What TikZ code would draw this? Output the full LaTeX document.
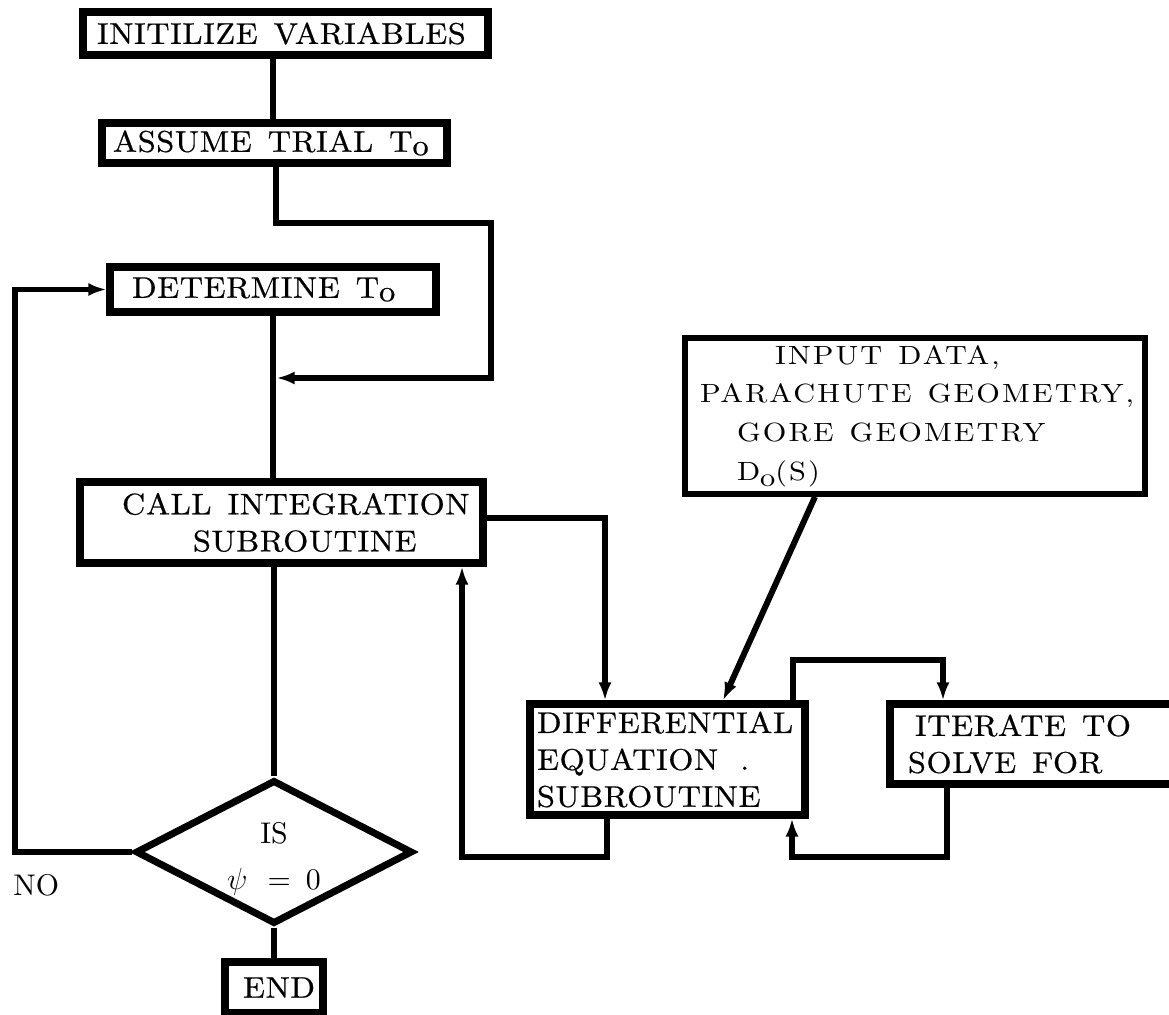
\documentclass[tikz,border=0pt]{standalone}
\usepackage{fontspec}
\setmainfont{lmroman10-regular}[Extension=.otf, BoldFont=lmroman10-bold]
\usetikzlibrary{arrows.meta, shapes.geometric}

% fonts: a widened, slightly heavier serif for the process boxes,
% a widened light serif for the data box
\newfontfamily\boxfamily{lmroman10-regular}[Extension=.otf, FakeStretch=1.08,
  FakeBold=0.6, LetterSpace=2]
\newfontfamily\datafamily{lmroman10-regular}[Extension=.otf, FakeStretch=1.15,
  LetterSpace=8]
\newcommand\chartfont{\boxfamily\fontsize{17}{21}\selectfont}
\newcommand\datafont{\datafamily\fontsize{15}{22}\selectfont}
\newcommand\plainfont{\fontsize{17}{26}\selectfont}
\newcommand\lowo{\raisebox{-0.7mm}{o}}
% word gaps as typed on the chart
\newcommand\gap{\hspace{3.2mm}}
\newcommand\dgap{\hspace{3.2mm}}

\tikzset{
  stepbox/.style={draw, line width=4pt, inner sep=0pt, align=left, font=\chartfont},
  wire/.style={line width=3.4pt},
  flow/.style={line width=3.4pt, -{Latex[length=3.6mm,width=2.6mm]}},
}

\begin{document}
\begin{tikzpicture}[x=0.2mm, y=-0.2mm, line join=miter]
\clip (0,0) rectangle (1169,1015);
\fill[white] (0,0) rectangle (1169,1015);

% main column
\node[stepbox, text width=81mm, minimum height=8.6mm] (init) at (285.5,33.5)
  {\hspace*{2.8mm}\mbox{INITILIZE\gap VARIABLES}};
\node[stepbox, text width=69mm, minimum height=8mm] (assume) at (274.5,143)
  {\hspace*{2.2mm}\mbox{ASSUME\gap TRIAL\gap T\lowo}};
\node[stepbox, text width=65.2mm, minimum height=9mm] (det) at (273,289.5)
  {\hspace*{4.4mm}\mbox{DETERMINE\gap T\lowo}};
\node[stepbox, text width=80.6mm, minimum height=16.2mm] (call) at (281.5,522.5)
  {\hspace*{8.4mm}\mbox{CALL\gap INTEGRATION}\\\hspace*{22.6mm}\mbox{SUBROUTINE}};
\node[diamond, draw, line width=4pt, inner sep=0pt, minimum width=55.4mm,
  minimum height=28.8mm] (dia) at (274,852) {};
\node[font=\plainfont, align=center, inner sep=0pt] (isq) at (274,859)
  {IS\\$\psi$\hspace{4mm}=\hspace{3mm}0};
\node[font=\plainfont, anchor=west, inner sep=0pt] (no) at (13,885) {NO};
\node[stepbox, text width=19.6mm, minimum height=10.2mm] (end) at (274,987.5)
  {\hspace*{3.6mm}\mbox{END}};

% right-hand blocks
\node[stepbox, line width=3.2pt, font=\datafont, text width=92mm,
  minimum height=31.2mm] (input) at (915,416)
  {\hspace*{18mm}\mbox{INPUT\dgap DATA,}\\\hspace*{3mm}\mbox{PARACHUTE\dgap GEOMETRY,}\\
   \hspace*{10.4mm}\mbox{GORE\dgap GEOMETRY}\\\hspace*{10.4mm}\mbox{D\raisebox{-1.2mm}{o}(S)}};
\node[stepbox, text width=55mm, minimum height=22.2mm] (diff) at (667.5,759.5)
  {\hspace*{1.4mm}\mbox{DIFFERENTIAL}\\\hspace*{1.4mm}\mbox{EQUATION\hspace{4.4mm}.}\\
   \hspace*{1.4mm}\mbox{SUBROUTINE}};
\node[stepbox, text width=62mm, minimum height=16mm] (iter) at (1045,744)
  {\hspace*{5mm}\mbox{ITERATE\gap TO}\\\hspace*{3.6mm}\mbox{SOLVE\gap FOR}};

% routing points
\coordinate (t1) at (273,0);
\coordinate (t2) at (276,0);
\coordinate (r1) at (491,223);
\coordinate (jn) at (276.5,378);
\coordinate (lx) at (15,0);
\coordinate (c1) at (605,518);
\coordinate (i1) at (815,0);
\coordinate (d1) at (723,0);
\coordinate (c2) at (793,660);
\coordinate (c3) at (943,0);
\coordinate (c4) at (947,857);
\coordinate (c5) at (792,0);
\coordinate (c6) at (607,857);
\coordinate (c7) at (462,0);

% connectors
\draw[wire] (t1 |- init.south) -- (t1 |- assume.north);
\draw[flow] (t2 |- assume.south) |- (r1) |- (jn);
\draw[wire] (t1 |- det.south) -- (t1 |- call.north);
\draw[wire] (dia.north |- call.south) -- (dia.north);
\draw[flow] (dia.west) -| (lx |- det.west) -- (det.west);
\draw[wire] (dia.south) -- (dia.south |- end.north);
\draw[flow] (call.east |- c1) -| (c1 |- diff.north);
\draw[flow] (i1 |- input.south) -- (d1 |- diff.north);
\draw[flow] (c2 |- diff.north) -- (c2) -| (c3 |- iter.north);
\draw[flow] (c4 |- iter.south) -- (c4) -| (c5 |- diff.south);
\draw[flow] (c6 |- diff.south) -- (c6) -| (c7 |- call.south);
\end{tikzpicture}
\end{document}
